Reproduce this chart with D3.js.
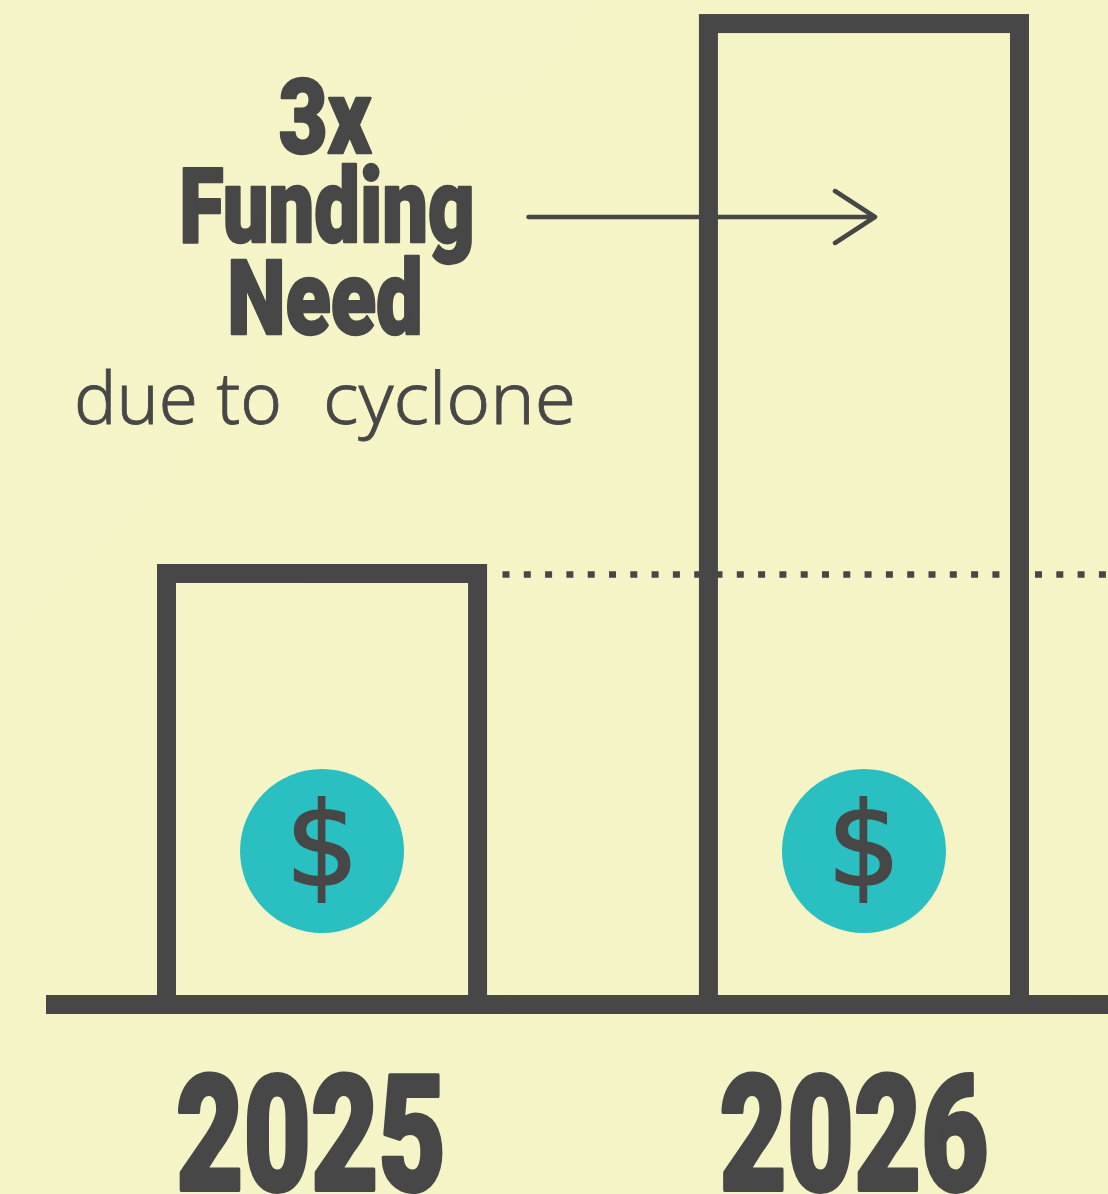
<!DOCTYPE html>
<html>
<head>
<meta charset="utf-8">
<script src="https://cdn.jsdelivr.net/npm/d3@7"></script>
<style>
    html, body { margin: 0; padding: 0; background: #f5f5c8; overflow: hidden; }
    svg { display: block; }
</style>
</head>
<body>
<div id="chart"></div>
<script>
// values, 2025 need = 1
const years = ["2025", "2026"];
const funding = [1, 2.276];
const headline = ["3x", "Funding", "Need"];
const subline = ["due to", "cyclone"];

const width = 1108, height = 1194;
const ink = "#474747", teal = "#2abfc0";
const barStroke = 19;

const svg = d3.select("#chart").append("svg")
    .attr("width", width)
    .attr("height", height);

// very faint diagonal wash like the original background
const grad = svg.append("defs").append("linearGradient")
    .attr("id", "wash")
    .attr("x1", 0).attr("y1", 0).attr("x2", 1).attr("y2", 1);
grad.append("stop").attr("offset", 0).attr("stop-color", "#f5f5c9");
grad.append("stop").attr("offset", 1).attr("stop-color", "#f4f4c5");

svg.append("rect")
    .attr("width", width)
    .attr("height", height)
    .attr("fill", "url(#wash)");

const x = d3.scaleBand()
    .domain(years)
    .range([166.5, 1019.5])
    .paddingInner(0.426)
    .paddingOuter(0);

const y = d3.scaleLinear()
    .domain([0, 1])
    .range([1004.5, 573.5]);

// reference level of the 2025 bar
svg.append("line")
    .attr("x1", 502.5)
    .attr("x2", width)
    .attr("y1", y(1) + 1)
    .attr("y2", y(1) + 1)
    .attr("stroke", ink)
    .attr("stroke-width", 6.5)
    .attr("stroke-dasharray", "7 14.3");

// arrow from the headline into the 2026 bar
svg.append("path")
    .attr("d", "M528.5,217H875M835,191L875,217L835,243")
    .attr("fill", "none")
    .attr("stroke", ink)
    .attr("stroke-width", 4.5)
    .attr("stroke-linecap", "round")
    .attr("stroke-linejoin", "round");

// baseline
svg.append("line")
    .attr("x1", 46)
    .attr("x2", width)
    .attr("y1", y(0))
    .attr("y2", y(0))
    .attr("stroke", ink)
    .attr("stroke-width", barStroke);

// bars are outlines only
svg.selectAll(".bar")
    .data(funding)
    .enter().append("rect")
    .attr("class", "bar")
    .attr("x", (d, i) => x(years[i]))
    .attr("y", d => y(d))
    .attr("width", x.bandwidth())
    .attr("height", d => y(0) - y(d))
    .attr("fill", "none")
    .attr("stroke", ink)
    .attr("stroke-width", barStroke);

// coins
const coin = svg.selectAll(".coin")
    .data(years)
    .enter().append("g")
    .attr("class", "coin")
    .attr("transform", d => "translate(" + (x(d) + x.bandwidth() / 2) + ",851)");

coin.append("circle")
    .attr("r", 82)
    .attr("fill", teal);

coin.append("text")
    .attr("text-anchor", "middle")
    .attr("y", 34)
    .style("font-family", "DejaVu Sans")
    .style("font-size", "116px")
    .attr("fill", ink)
    .attr("stroke", ink)
    .attr("stroke-width", 2)
    .text("$");

// year labels through the axis, they sit a bit left of the bar centre
const axis = svg.append("g")
    .attr("transform", "translate(0," + 1189.5 + ")")
    .call(d3.axisBottom(x).tickSize(0).tickPadding(0));
axis.select(".domain").remove();
axis.selectAll("text")
    .attr("x", d => d === "2025" ? -11 : -10)
    .attr("y", 0)
    .attr("dy", 0)
    .attr("textLength", d => d === "2025" ? 270 : 269)
    .attr("lengthAdjust", "spacingAndGlyphs")
    .style("font-family", "Roboto")
    .style("font-weight", 900)
    .style("font-size", "162px")
    .attr("fill", ink)
    .attr("stroke", ink)
    .attr("stroke-width", 4)
    .attr("stroke-linejoin", "round");

// headline, each line fitted to the width it has in the picture
const lineBase = [153, 242, 334];
const lineLen = [92.5, 295.5, 195.5];
const lineX = [325, 327, 325];
svg.selectAll(".headline")
    .data(headline)
    .enter().append("text")
    .attr("class", "headline")
    .attr("x", (d, i) => lineX[i])
    .attr("y", (d, i) => lineBase[i])
    .attr("text-anchor", "middle")
    .attr("textLength", (d, i) => lineLen[i])
    .attr("lengthAdjust", "spacingAndGlyphs")
    .style("font-family", "Roboto")
    .style("font-weight", 900)
    .style("font-size", "104px")
    .attr("fill", ink)
    .attr("stroke", ink)
    .attr("stroke-width", 2.5)
    .attr("stroke-linejoin", "round")
    .text(d => d);

const subX = [74, 323];
const subLen = [208, 253];
svg.selectAll(".subline")
    .data(subline)
    .enter().append("text")
    .attr("class", "subline")
    .attr("x", (d, i) => subX[i])
    .attr("y", 424)
    .attr("textLength", (d, i) => subLen[i])
    .attr("lengthAdjust", "spacingAndGlyphs")
    .style("font-family", "Noto Sans")
    .style("font-weight", 300)
    .style("font-size", "72px")
    .attr("fill", ink)
    .attr("stroke", ink)
    .attr("stroke-width", 0.8)
    .text(d => d);
</script>
</body>
</html>
